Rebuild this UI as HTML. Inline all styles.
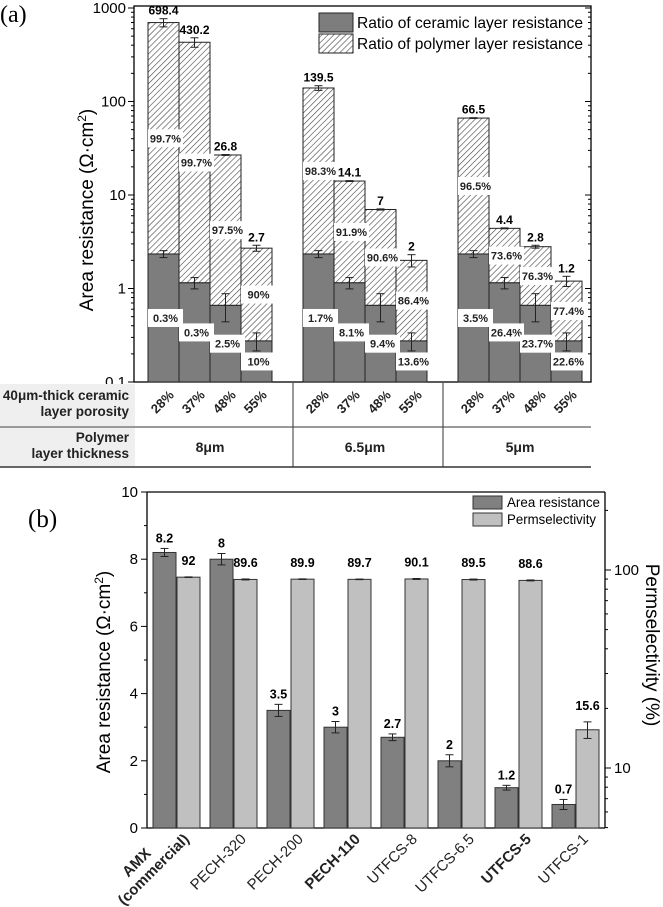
<!DOCTYPE html>
<html><head><meta charset="utf-8"><style>
html,body{margin:0;padding:0;background:#fff;}
svg{display:block;font-family:"Liberation Sans",Arial,sans-serif;}
</style></head><body>
<svg id="fig" width="663" height="907" viewBox="0 0 663 907" xmlns="http://www.w3.org/2000/svg">
<defs>
<pattern id="hatch" patternUnits="userSpaceOnUse" width="4.2" height="4.2" patternTransform="rotate(45)">
<rect width="4.2" height="4.2" fill="#fff"/>
<line x1="0" y1="0" x2="0" y2="4.2" stroke="#444" stroke-width="1.2"/>
</pattern>
</defs>
<g id="pa"></g>
<g id="pb"></g>
</svg>
<script>
// ---------- Panel (a) data ----------
const aGroups = ["8μm", "6.5μm", "5μm"];
const aPorosity = ["28%", "37%", "48%", "55%"];
const aTotal = [[698.4, 430.2, 26.8, 2.7], [139.5, 14.1, 7, 2], [66.5, 4.4, 2.8, 1.2]];
const aTotalErr = [[70, 50, 0.3, 0.2], [8, 0.15, 0.1, 0.3], [0.6, 0.05, 0.1, 0.15]];
const aCeramic = [2.34, 1.15, 0.66, 0.275];
const aCeramicErr = [0.2, 0.16, 0.22, 0.06];
const aPolyPct = [["99.7%", "99.7%", "97.5%", "90%"], ["98.3%", "91.9%", "90.6%", "86.4%"], ["96.5%", "73.6%", "76.3%", "77.4%"]];
const aCerPct = [["0.3%", "0.3%", "2.5%", "10%"], ["1.7%", "8.1%", "9.4%", "13.6%"], ["3.5%", "26.4%", "23.7%", "22.6%"]];
const aYTicks = [0.1, 1, 10, 100, 1000];
const aYTickLabels = ["0.1", "1", "10", "100", "1000"];

// ---------- Panel (b) data ----------
const bCategories = ["AMX|(commercial)", "PECH-320", "PECH-200", "PECH-110", "UTFCS-8", "UTFCS-6.5", "UTFCS-5", "UTFCS-1"];
const bBold = [true, false, false, true, false, false, true, false];
const bResistance = [8.2, 8, 3.5, 3, 2.7, 2, 1.2, 0.7];
const bResistanceErr = [0.12, 0.17, 0.18, 0.17, 0.1, 0.18, 0.07, 0.15];
const bPerm = [92, 89.6, 89.9, 89.7, 90.1, 89.5, 88.6, 15.6];
const bPermErr = [0.3, 0.5, 0.3, 0.3, 0.5, 0.5, 0.5, 1.5];
const bLeftTicks = [0, 2, 4, 6, 8, 10];
const bRightTicks = [10, 100];

const NS = "http://www.w3.org/2000/svg";
function mk(parent, tag, attrs, text) {
  const e = document.createElementNS(NS, tag);
  for (const k in attrs) e.setAttribute(k, attrs[k]);
  if (text !== undefined) e.textContent = text;
  parent.appendChild(e);
  return e;
}

// ================= Panel A =================
const pa = document.getElementById("pa");
const aL = 134, aR = 591, aT = 6, aB = 382;
const aDec = 93.5;
function ya(v) { return aB - aDec * (Math.log10(v) + 1); }
const aBarW = 31, aX0 = 148;
function xa(g, i) { return aX0 + aBarW * (g * 5 + i); }

let t = mk(pa, "text", {x: 0, y: 22, "font-family": "Liberation Serif,serif", "font-size": 24}, "(a)");



let fr = mk(pa, "rect", {x: aL, y: aT, width: aR - aL, height: aB - aT, fill: "none", stroke: "#000", "stroke-width": 1.3});



for (let d = -1; d <= 3; d++) {
  for (let m = 1; m <= 9; m++) {
    const v = m * Math.pow(10, d);
    if (v > 1000.001) break;
    const y = ya(v);
    const len = m === 1 ? 6 : 3;
    mk(pa, "line", {x1: aL - len, x2: aL, y1: y, y2: y, stroke: "#000", "stroke-width": 1});
    mk(pa, "line", {x1: aR, x2: aR - len, y1: y, y2: y, stroke: "#000", "stroke-width": 1});
  }
}
aYTicks.forEach((v, i) => {
  const tl = mk(pa, "text", {x: aL - 8, y: ya(v) + 5, "text-anchor": "end", "font-size": 15}, aYTickLabels[i]);
  
  
});
let yt = mk(pa, "text", {x: 0, y: 0, transform: "translate(93,210) rotate(-90)", "text-anchor": "middle", "font-size": 19}, "");


yt.innerHTML = 'Area resistance (Ω·cm<tspan dy="-7" font-size="12">2</tspan><tspan dy="7">)</tspan>';

function errBar(parent, x, lo, hi, name) {
  const g = mk(parent, "g", {stroke: "#222", "stroke-width": 1});
  
  
  mk(g, "line", {x1: x, x2: x, y1: lo, y2: hi});
  mk(g, "line", {x1: x - 4, x2: x + 4, y1: lo, y2: lo});
  mk(g, "line", {x1: x - 4, x2: x + 4, y1: hi, y2: hi});
}

const labelsLayer = [];
aTotal.forEach((grp, g) => {
  grp.forEach((tot, i) => {
    const x = xa(g, i);
    const cer = aCeramic[i];
    const poly = mk(pa, "rect", {x: x, y: ya(tot), width: aBarW, height: ya(cer) - ya(tot), fill: "url(#hatch)", stroke: "#222", "stroke-width": 1});
    
    
    const cb = mk(pa, "rect", {x: x, y: ya(cer), width: aBarW, height: aB - ya(cer), fill: "#7d7d7d", stroke: "#222", "stroke-width": 1});
    
    
    labelsLayer.push({g, i, x, tot, cer});
  });
});
labelsLayer.forEach(o => {
  const cx = o.x + aBarW / 2;
  const e = aTotalErr[o.g][o.i];
  errBar(pa, cx, ya(o.tot - e), ya(o.tot + e), 'total-error-bar');
  const ce = aCeramicErr[o.i];
  errBar(pa, cx, ya(o.cer - ce), ya(o.cer + ce), 'ceramic-error-bar');
  const vl = mk(pa, "text", {x: cx, y: ya(o.tot + e) - 4, "text-anchor": "middle", "font-size": 12, "font-weight": "bold"}, String(o.tot));
  
  
});
labelsLayer.forEach(o => {
  const pairs = [
    [Math.sqrt(o.tot * o.cer), aPolyPct[o.g][o.i], 'polymer-percent-label'],
    [Math.sqrt(o.cer * 0.1), aCerPct[o.g][o.i], 'ceramic-percent-label']
  ];
  pairs.forEach(p => {
    const y = ya(p[0]);
    const b = mk(pa, "rect", {x: o.x, y: y - 9, width: 35, height: 18, fill: "#fff"});
    
    
    const tt = mk(pa, "text", {x: o.x + 17.5, y: y + 4, "text-anchor": "middle", "font-size": 11, "font-weight": "bold", fill: "#222"}, p[1]);
    
    
  });
});

let lg = mk(pa, "g", {});


let l1 = mk(lg, "rect", {x: 319, y: 13, width: 34, height: 19, fill: "#7d7d7d", stroke: "#222"});


let l2 = mk(lg, "rect", {x: 319, y: 34, width: 34, height: 19, fill: "url(#hatch)", stroke: "#222"});


let lt1 = mk(lg, "text", {x: 357, y: 28, "font-size": 16, textLength: 226, lengthAdjust: "spacingAndGlyphs"}, "Ratio of ceramic layer resistance");


let lt2 = mk(lg, "text", {x: 357, y: 49, "font-size": 16, textLength: 226, lengthAdjust: "spacingAndGlyphs"}, "Ratio of polymer layer resistance");



const tb = mk(pa, "g", {});


mk(tb, "rect", {x: 0, y: 384, width: 135, height: 42, fill: "#efefef"});
mk(tb, "rect", {x: 0, y: 428, width: 135, height: 38, fill: "#efefef"});
mk(tb, "line", {x1: 0, x2: 591, y1: 427, y2: 427, stroke: "#333", "stroke-width": 1});
mk(tb, "line", {x1: 0, x2: 591, y1: 467, y2: 467, stroke: "#666", "stroke-width": 2});
mk(tb, "line", {x1: 293, x2: 293, y1: 383, y2: 467, stroke: "#333", "stroke-width": 1});
mk(tb, "line", {x1: 443, x2: 443, y1: 383, y2: 467, stroke: "#333", "stroke-width": 1});
[["40μm-thick ceramic", 400], ["layer porosity", 416], ["Polymer", 442], ["layer thickness", 458]].forEach(r => {
  const tx = mk(tb, "text", {x: 129, y: r[1], "text-anchor": "end", "font-size": 13.5, "font-weight": "bold", fill: "#222"}, r[0]);
  
  
});
aGroups.forEach((gname, g) => {
  aPorosity.forEach((p, i) => {
    const cx = xa(g, i) + aBarW / 2;
    const pt = mk(tb, "text", {x: 0, y: 0, transform: `translate(${cx + 2},${405}) rotate(-45)`, "text-anchor": "middle", "font-size": 13, "font-weight": "bold", fill: "#222"}, p);
    
    
  });
  const gc = xa(g, 0) + aBarW * 2;
  const gt = mk(tb, "text", {x: gc, y: 452, "text-anchor": "middle", "font-size": 14, "font-weight": "bold", fill: "#222"}, gname);
  
  
});

// ================= Panel B =================
const pb = document.getElementById("pb");
const bL = 147, bR = 605, bT = 492, bB = 828;
const bYmax = 10;
function yb(v) { return bB - (bB - bT) * v / bYmax; }
const bY100 = 570, bDec = 198;
function yr(v) { return bY100 - bDec * (Math.log10(v) - 2); }
const bPitch = 57, bX0 = 153, bW = 23;
function xb(i) { return bX0 + bPitch * i; }

t = mk(pb, "text", {x: 28, y: 527, "font-family": "Liberation Serif,serif", "font-size": 25}, "(b)");



mk(pb, "line", {x1: bL, x2: bR, y1: bT, y2: bT, stroke: "#000", "stroke-width": 1.2});
let ax = mk(pb, "line", {x1: bL, x2: bL, y1: bT, y2: bB, stroke: "#000", "stroke-width": 1.3});


ax = mk(pb, "line", {x1: bR, x2: bR, y1: bT, y2: bB, stroke: "#000", "stroke-width": 1.3});


ax = mk(pb, "line", {x1: bL, x2: bR, y1: bB, y2: bB, stroke: "#000", "stroke-width": 1.3});



for (let v = 0; v <= bYmax; v++) {
  const len = v % 2 === 0 ? 6 : 3;
  mk(pb, "line", {x1: bL - len, x2: bL, y1: yb(v), y2: yb(v), stroke: "#000"});
}
bLeftTicks.forEach(v => {
  const tl = mk(pb, "text", {x: bL - 9, y: yb(v) + 5, "text-anchor": "end", "font-size": 15}, String(v));
  
  
});
for (let d = 0; d <= 2; d++) {
  for (let m = 1; m <= 9; m++) {
    const v = m * Math.pow(10, d);
    const y = yr(v);
    if (y < bT || y > bB) continue;
    const len = m === 1 ? 6 : 3;
    mk(pb, "line", {x1: bR, x2: bR + len, y1: y, y2: y, stroke: "#000"});
  }
}
bRightTicks.forEach(v => {
  const tl = mk(pb, "text", {x: bR + 9, y: yr(v) + 5, "font-size": 15}, String(v));
  
  
});
yt = mk(pb, "text", {x: 0, y: 0, transform: "translate(110,672) rotate(-90)", "text-anchor": "middle", "font-size": 19}, "");


yt.innerHTML = 'Area resistance (Ω·cm<tspan dy="-7" font-size="12">2</tspan><tspan dy="7">)</tspan>';
yt = mk(pb, "text", {x: 0, y: 0, transform: "translate(646,645) rotate(90)", "text-anchor": "middle", "font-size": 19}, "Permselectivity (%)");



bCategories.forEach((c, i) => {
  const x = xb(i);
  const r = bResistance[i], re = bResistanceErr[i];
  const rb = mk(pb, "rect", {x: x, y: yb(r), width: bW, height: bB - yb(r), fill: "#808080", stroke: "#333", "stroke-width": 1});
  
  
  errBar(pb, x + bW / 2, yb(r - re), yb(r + re), 'resistance-error-bar');
  let vl = mk(pb, "text", {x: x + bW / 2, y: yb(r + re) - 6, "text-anchor": "middle", "font-size": 12.5, "font-weight": "bold"}, String(r));
  
  
  const p = bPerm[i], pe = bPermErr[i];
  const px = x + bW + 1;
  const pbar = mk(pb, "rect", {x: px, y: yr(p), width: bW, height: bB - yr(p), fill: "#c0c0c0", stroke: "#333", "stroke-width": 1});
  
  
  errBar(pb, px + bW / 2, yr(p - pe), yr(p + pe), 'permselectivity-error-bar');
  vl = mk(pb, "text", {x: px + bW / 2, y: yr(p + pe) - 12, "text-anchor": "middle", "font-size": 12.5, "font-weight": "bold"}, String(p));
  
  
  const parts = c.split("|");
  const cx = x + bW + 14, cy = 840;
  const ct = mk(pb, "text", {x: 0, y: 0, transform: `translate(${cx},${cy}) rotate(-45)`, "text-anchor": "end", "font-size": 15, "font-weight": bBold[i] ? "bold" : "normal", fill: "#222"}, "");
  
  
  if (parts.length === 1) { ct.textContent = parts[0]; }
  else {
    mk(ct, "tspan", {x: -37, y: -17}, parts[0]);
    mk(ct, "tspan", {x: 0, y: 0}, parts[1]);
  }
});

lg = mk(pb, "g", {});


l1 = mk(lg, "rect", {x: 473, y: 496, width: 29, height: 13, fill: "#808080", stroke: "#333"});


l2 = mk(lg, "rect", {x: 473, y: 513, width: 29, height: 13, fill: "#c0c0c0", stroke: "#333"});


lt1 = mk(lg, "text", {x: 507, y: 507, "font-size": 14, textLength: 93, lengthAdjust: "spacingAndGlyphs"}, "Area resistance");


lt2 = mk(lg, "text", {x: 507, y: 524, "font-size": 14, textLength: 89, lengthAdjust: "spacingAndGlyphs"}, "Permselectivity");


</script>
</body></html>
